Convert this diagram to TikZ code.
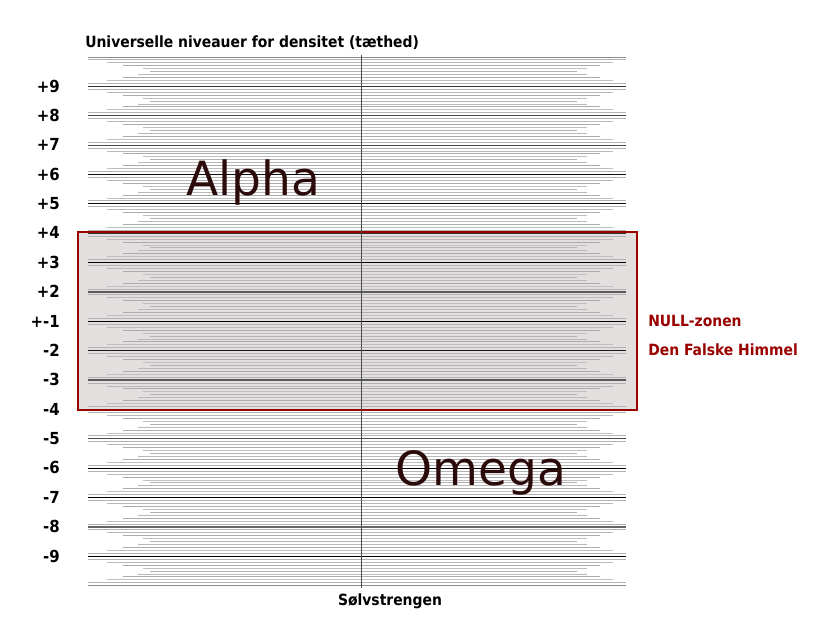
\documentclass[tikz,border=0pt]{standalone}
\usepackage{fontspec}
\setmainfont{DejaVu Sans}
\newfontfamily\condfont{DejaVu Sans Condensed}
\definecolor{nullred}{HTML}{990000}
\definecolor{nullfill}{HTML}{E3DFDE}
\definecolor{wordbrown}{HTML}{2B0A0A}
\tikzset{
  hatch/.style={line width=0.65pt},
  levellabel/.style={anchor=east,inner sep=0pt,font=\condfont\bfseries\fontsize{11.8}{14}\selectfont},
  smalltext/.style={inner sep=0pt,font=\condfont\bfseries\fontsize{11}{13}\selectfont},
  bigword/.style={anchor=base,inner sep=0pt,text=wordbrown,font=\fontsize{33.5}{40}\selectfont},
  zonelabel/.style={anchor=base west,inner sep=0pt,text=nullred,font=\condfont\bfseries\fontsize{11}{13}\selectfont},
}
\begin{document}
\begin{tikzpicture}[x=0.025cm,y=-0.025cm]
\useasboundingbox (0,0) rectangle (824,620);
\fill[nullfill] (78,232) rectangle (637,410);
% fine lines between the levels
\foreach \k in {0,...,17} {
  \foreach \j/\l/\r/\c in {1/88/626/60,2/107/613/55,3/123/600/65,4/143/587/50,5/150/577/60,
                          6/138/587/55,7/123/600/65,8/107/613/50,9/88/626/60} {
    \draw[hatch,gray!\c] (\l,57+29.375*\k+2.9375*\j) -- (\r,57+29.375*\k+2.9375*\j);
  }
}
% the level lines
\foreach \k/\c/\w in {0/45/0.6,1/80/0.8,2/70/0.8,3/70/0.8,4/95/0.8,5/95/0.8,6/80/0.8,
                      7/100/0.8,8/65/1.2,9/100/0.8,10/90/0.8,11/65/1.2,12/90/0.8,13/70/0.8,
                      14/100/0.8,15/100/0.8,16/60/1.2,17/100/0.8,18/45/0.6} {
  \draw[line width=\w pt,black!\c] (88,57+29.375*\k) -- (626,57+29.375*\k);
}
\draw[nullred,line width=1.8pt] (78,232) rectangle (637,410);
\foreach \lab [count=\i from 0] in {+9,+8,+7,+6,+5,+4,+3,+2,+-1,-2,-3,-4,-5,-6,-7,-8,-9} {
  \node[levellabel] (lev\i) at (60,86+29.375*\i) {\lab};
}
\node[smalltext,anchor=base west] (title) at (85,47) {Universelle niveauer for densitet (tæthed)};
\node[smalltext,anchor=base] (streng) at (390,605) {Sølvstrengen};
\coordinate (strengtop) at (361,55);
\draw[black!70,line width=0.4pt] (strengtop) -- (361,588);
\node[bigword] (alpha) at (253,195) {Alpha};
\node[bigword] (omega) at (481,485) {Omega};
\node[zonelabel] (nullzone) at (648,326) {NULL-zonen};
\node[zonelabel] (himmel) at (648,355) {Den Falske Himmel};
\end{tikzpicture}
\end{document}
